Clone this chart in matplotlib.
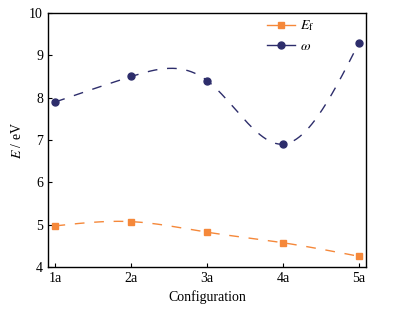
import numpy as np
import matplotlib
matplotlib.use('Agg')
import matplotlib.pyplot as plt

configs = ['1a', '2a', '3a', '4a', '5a']
e_f = [4.97, 5.07, 4.82, 4.57, 4.25]
omega = [7.9, 8.5, 8.4, 6.9, 9.3]


def natural_spline(x, y, n=200):
    # natural cubic spline through the data points, for the smooth dashed curve
    x = np.asarray(x, float)
    y = np.asarray(y, float)
    k = len(x)
    h = np.diff(x)
    A = np.zeros((k, k))
    b = np.zeros(k)
    A[0, 0] = A[-1, -1] = 1
    for i in range(1, k - 1):
        A[i, i - 1] = h[i - 1]
        A[i, i] = 2 * (h[i - 1] + h[i])
        A[i, i + 1] = h[i]
        b[i] = 6 * ((y[i + 1] - y[i]) / h[i] - (y[i] - y[i - 1]) / h[i - 1])
    m = np.linalg.solve(A, b)
    xs = np.linspace(x[0], x[-1], n)
    idx = np.clip(np.searchsorted(x, xs) - 1, 0, k - 2)
    t0 = x[idx]
    t1 = x[idx + 1]
    hh = t1 - t0
    ys = (m[idx] * (t1 - xs) ** 3 / (6 * hh) + m[idx + 1] * (xs - t0) ** 3 / (6 * hh)
          + (y[idx] / hh - m[idx] * hh / 6) * (t1 - xs)
          + (y[idx + 1] / hh - m[idx + 1] * hh / 6) * (xs - t0))
    return xs, ys


plt.rcParams['font.family'] = 'Liberation Serif'
plt.rcParams['mathtext.fontset'] = 'stix'

orange = '#F5883A'
navy = '#2D2D6B'
dash = (7, 7)

fig = plt.figure(figsize=(3.99, 3.10), dpi=100)
ax = fig.add_axes([0.120, 0.139, 0.797, 0.819])

x = np.arange(1, len(configs) + 1)

xs, ys = natural_spline(x, e_f)
ax.plot(xs, ys, color=orange, lw=1.0, dashes=dash)
ax.plot(x, e_f, 's', color=orange, ms=4, ls='none')
ax.plot([], [], color=orange, lw=1.0, marker='s', ms=4, label=r'$E_{\mathrm{f}}$')

xs, ys = natural_spline(x, omega)
ax.plot(xs, ys, color=navy, lw=1.0, dashes=dash)
ax.plot(x, omega, 'o', color=navy, ms=5, ls='none')
ax.plot([], [], color=navy, lw=1.0, marker='o', ms=5, label=r'$\omega$')

ax.set_xlim(0.9, 5.09)
ax.set_ylim(4, 10)
ax.set_xticks(x)
ax.set_xticklabels(configs)
ax.set_yticks(range(4, 11))
ax.tick_params(direction='in', labelsize=10, length=3, width=0.8)
for s in ax.spines.values():
    s.set_linewidth(1.0)

ax.set_xlabel('Configuration', fontsize=10)
ax.set_ylabel(r'$E$ / eV', fontsize=10)

ax.legend(loc='upper left', bbox_to_anchor=(0.689, 0.978), frameon=False,
          fontsize=10, handlelength=2.0, handletextpad=0.4, labelspacing=0.5,
          borderpad=0, borderaxespad=0)

plt.savefig('out.png', dpi=100)
